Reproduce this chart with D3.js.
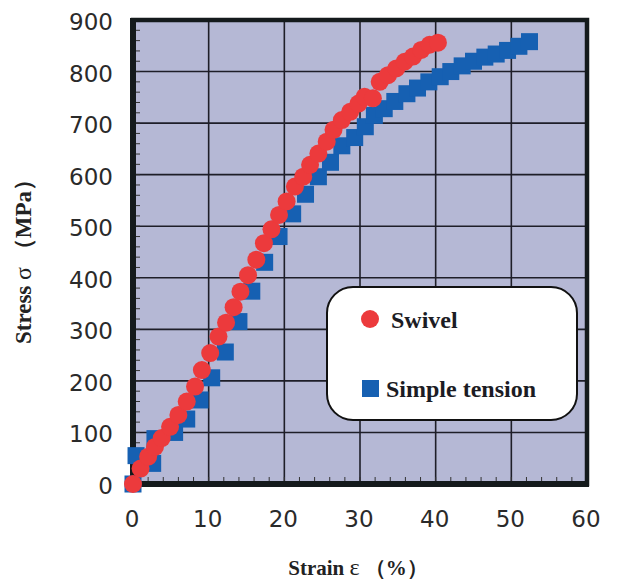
<!DOCTYPE html>
<html>
<head>
<meta charset="utf-8">
<script src="https://cdn.jsdelivr.net/npm/d3@7"></script>
<style>
    body { margin: 0; background: #fff; }
    .tick-label { font-family: "DejaVu Sans", sans-serif; font-size: 23px; fill: #2a2a2a; }
    .axis-title { font-family: "Liberation Serif", "Times New Roman", serif; font-size: 21px; font-weight: bold; fill: #222; }
    .y-title { font-size: 23px; }
    .greek { font-size: 24px; font-weight: normal; }
    .legend-text { font-family: "Liberation Serif", "Times New Roman", serif; font-size: 24px; font-weight: bold; fill: #1c1c24; }
</style>
</head>
<body>
<div id="visualization"></div>
<script>
// ---------DATA---------
var swivelStrain = [0, 1.0, 2.0, 2.9, 3.8, 4.9, 6.0, 7.1, 8.2, 9.1, 10.2, 11.3, 12.3, 13.3, 14.2, 15.2, 16.3, 17.3, 18.3, 19.3,
    20.3, 21.4, 22.5, 23.4, 24.5, 25.6, 26.5, 27.6, 28.7, 29.8, 30.6, 31.7, 32.6, 33.7, 34.8, 35.9, 37.0, 38.1, 39.2, 40.3];
var swivelStress = [0, 30, 53, 72, 89, 111, 134, 160, 189, 221, 254, 286, 313, 343, 373, 405, 435, 467, 494, 522,
    548, 577, 596, 619, 641, 664, 687, 706, 722, 738, 751, 748, 780, 793, 806, 819, 829, 842, 852, 856];

var tensionStrain = [0, 0.4, 2.6, 2.9, 5.5, 7.1, 8.85, 10.4, 12.2, 14.0, 15.7, 17.4, 19.3, 21.1, 22.8, 24.5, 26.1, 27.6,
    29.3, 30.7, 31.9, 33.2, 34.6, 36.2, 37.6, 39.1, 40.6, 42.0, 43.5, 45.0, 46.5, 48.0, 49.5, 51.0, 52.4];
var tensionStress = [0, 55, 40, 88, 100, 126, 163, 206, 256, 315, 374, 430, 480, 524, 562, 596, 624, 656,
    672, 693, 715, 728, 742, 757, 768, 780, 790, 800, 811, 820, 828, 834, 841, 849, 858];

var xTicks = [0, 10, 20, 30, 40, 50, 60];
var yTicks = [0, 100, 200, 300, 400, 500, 600, 700, 800, 900];
var legendLabels = ["Swivel", "Simple tension"];

var width = 622,
    height = 581;

var svg = d3.select("#visualization").append("svg")
    .attr("width", width)
    .attr("height", height);

// plot box
var boxLeft = 133, boxRight = 587, boxTop = 20, boxBottom = 484;

var x = d3.scaleLinear().domain([0, 60]).range([boxLeft, boxRight]);
var y = d3.scaleLinear().domain([0, 900]).range([boxBottom, boxTop]);

svg.append("rect")
    .attr("x", boxLeft)
    .attr("y", boxTop)
    .attr("width", boxRight - boxLeft)
    .attr("height", boxBottom - boxTop)
    .attr("fill", "#b5b8d5");

// ---------GRID---------
svg.selectAll(".vgrid")
    .data(xTicks.slice(1, -1))
    .enter().append("line")
    .attr("x1", function(d) { return x(d); })
    .attr("x2", function(d) { return x(d); })
    .attr("y1", boxTop)
    .attr("y2", boxBottom)
    .attr("stroke", "#1e1e28")
    .attr("stroke-width", 1.6);

svg.selectAll(".hgrid")
    .data(yTicks.slice(1, -1))
    .enter().append("line")
    .attr("x1", boxLeft)
    .attr("x2", boxRight)
    .attr("y1", function(d) { return y(d); })
    .attr("y2", function(d) { return y(d); })
    .attr("stroke", "#1e1e28")
    .attr("stroke-width", 1.6);

// minor ticks, inside the box
svg.selectAll(".ytick")
    .data(d3.range(20, 900, 20))
    .enter().append("line")
    .attr("x1", boxLeft)
    .attr("x2", boxLeft + 7)
    .attr("y1", function(d) { return y(d); })
    .attr("y2", function(d) { return y(d); })
    .attr("stroke", "#333")
    .attr("stroke-width", 1);

svg.selectAll(".xtick")
    .data(d3.range(2, 60, 2))
    .enter().append("line")
    .attr("x1", function(d) { return x(d); })
    .attr("x2", function(d) { return x(d); })
    .attr("y1", boxBottom)
    .attr("y2", boxBottom - 7)
    .attr("stroke", "#333")
    .attr("stroke-width", 1);

// frame
svg.append("rect")
    .attr("x", boxLeft)
    .attr("y", boxTop)
    .attr("width", boxRight - boxLeft)
    .attr("height", boxBottom - boxTop)
    .attr("fill", "none")
    .attr("stroke", "#141a1c")
    .attr("stroke-width", 4.5);
svg.append("line")
    .attr("x1", boxLeft).attr("x2", boxLeft)
    .attr("y1", boxTop - 2).attr("y2", boxBottom + 3)
    .attr("stroke", "#141a1c")
    .attr("stroke-width", 6);
svg.append("line")
    .attr("x1", boxLeft).attr("x2", boxRight + 2)
    .attr("y1", boxBottom).attr("y2", boxBottom)
    .attr("stroke", "#141a1c")
    .attr("stroke-width", 6);

// ---------TICK LABELS---------
svg.selectAll(".ylabel")
    .data(yTicks)
    .enter().append("text")
    .attr("class", "tick-label")
    .attr("x", 113)
    .attr("y", function(d) { return y(d) + 10; })
    .attr("text-anchor", "end")
    .text(function(d) { return d; });

svg.selectAll(".xlabel")
    .data(xTicks)
    .enter().append("text")
    .attr("class", "tick-label")
    .attr("x", function(d) { return x(d) - 1; })
    .attr("y", 527)
    .attr("text-anchor", "middle")
    .text(function(d) { return d; });

// ---------AXIS TITLES---------
var yTitle = svg.append("text")
    .attr("class", "axis-title y-title")
    .attr("transform", "translate(31,256) rotate(-90)")
    .attr("text-anchor", "middle");
yTitle.append("tspan").text("Stress ");
yTitle.append("tspan").attr("class", "greek").attr("font-size", 26).text("σ");
yTitle.append("tspan").text(" （MPa）");

var xTitle = svg.append("text")
    .attr("class", "axis-title")
    .attr("x", 358)
    .attr("y", 575)
    .attr("text-anchor", "middle");
xTitle.append("tspan").text("Strain ");
xTitle.append("tspan").attr("class", "greek").text("ε");
xTitle.append("tspan").text(" （%）");

// ---------LEGEND BOX---------
svg.append("rect")
    .attr("x", 327)
    .attr("y", 287)
    .attr("width", 250)
    .attr("height", 133)
    .attr("rx", 26)
    .attr("fill", "#fff")
    .attr("stroke", "#111")
    .attr("stroke-width", 2);

// ---------SERIES---------
var tension = tensionStrain.map(function(d, i) { return { x: d, y: tensionStress[i] }; });
var swivel = swivelStrain.map(function(d, i) { return { x: d, y: swivelStress[i] }; });
var sq = 17;

svg.selectAll(".tension")
    .data(tension)
    .enter().append("rect")
    .attr("x", function(d) { return x(d.x) - sq / 2; })
    .attr("y", function(d) { return y(d.y) - sq / 2; })
    .attr("width", sq)
    .attr("height", sq)
    .attr("fill", "#1660b2");

svg.selectAll(".swivel")
    .data(swivel)
    .enter().append("circle")
    .attr("cx", function(d) { return x(d.x); })
    .attr("cy", function(d) { return y(d.y); })
    .attr("r", 9)
    .attr("fill", "#ec3a3c");

// legend entries
svg.append("circle")
    .attr("cx", 370)
    .attr("cy", 319)
    .attr("r", 9)
    .attr("fill", "#ec3a3c");
svg.append("text")
    .attr("class", "legend-text")
    .attr("x", 391)
    .attr("y", 328)
    .text(legendLabels[0]);

svg.append("rect")
    .attr("x", 362)
    .attr("y", 380)
    .attr("width", 17)
    .attr("height", 17)
    .attr("fill", "#1660b2");
svg.append("text")
    .attr("class", "legend-text")
    .attr("x", 386)
    .attr("y", 397)
    .text(legendLabels[1]);
</script>
</body>
</html>
